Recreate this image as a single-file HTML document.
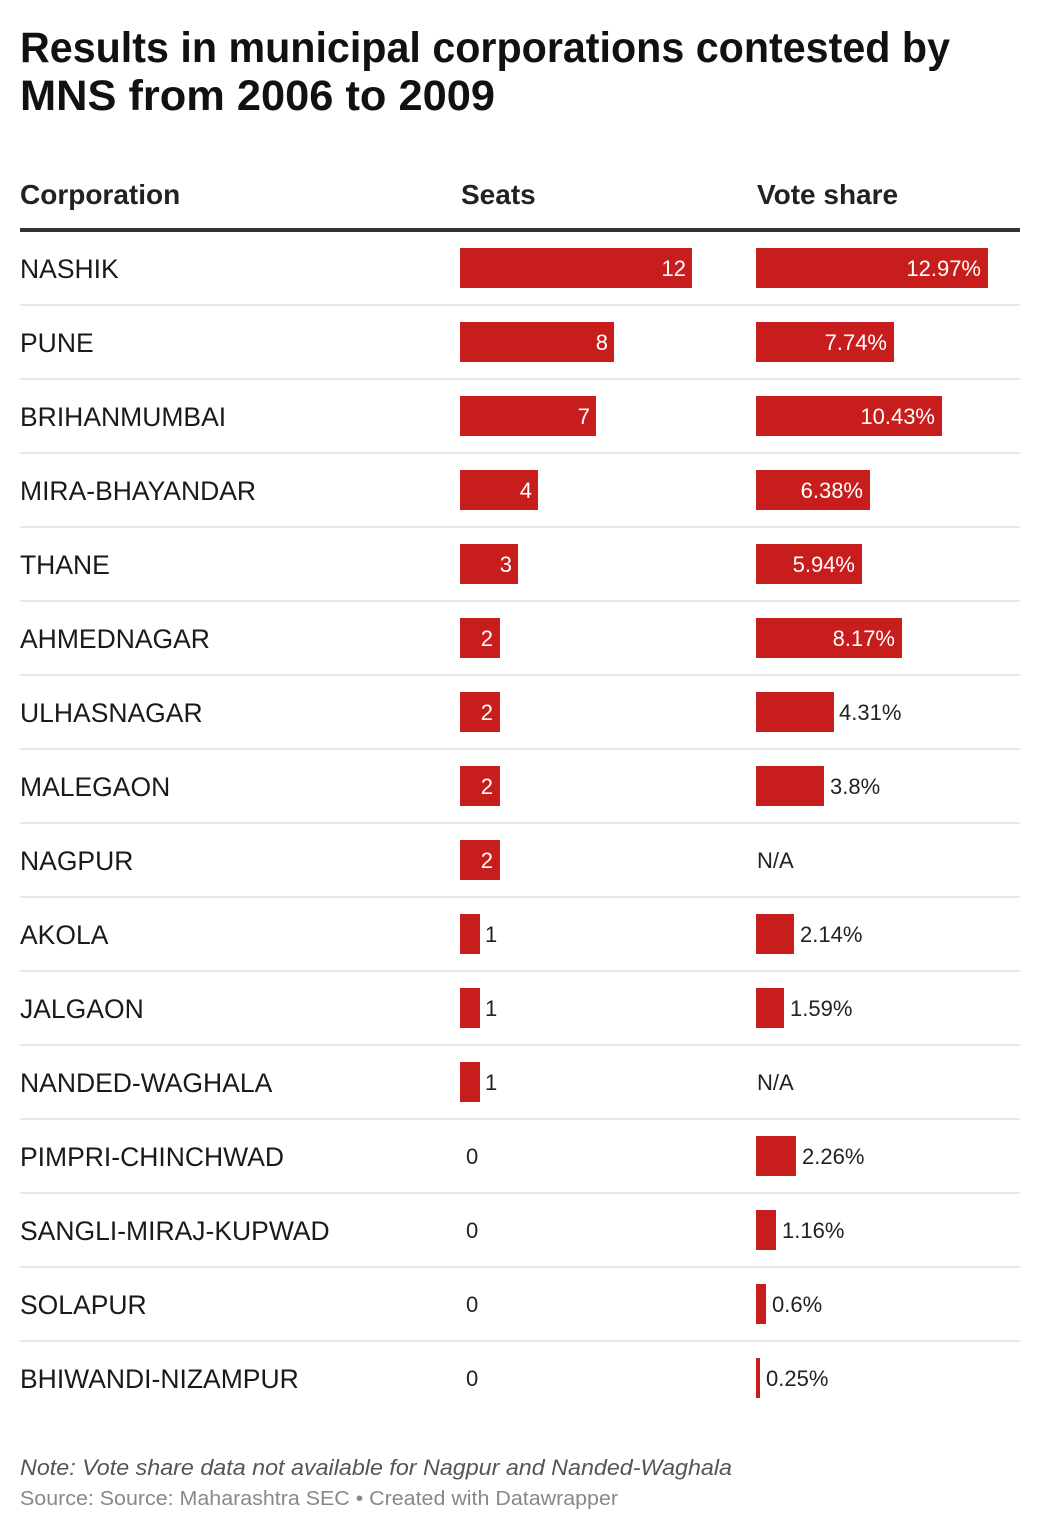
<!DOCTYPE html>
<html>
<head>
<meta charset="utf-8">
<style>
  html, body { margin: 0; padding: 0; background: #ffffff; }
  svg { display: block; }
  text { font-family: "Liberation Sans", Arial, sans-serif; }
</style>
</head>
<body>
<svg width="1040" height="1538" viewBox="0 0 1040 1538" xmlns="http://www.w3.org/2000/svg">
  <rect x="0" y="0" width="1040" height="1538" fill="#ffffff"/>

  <!-- Title -->
  <text x="20" y="62" font-size="43" font-weight="bold" fill="#111" textLength="930" lengthAdjust="spacingAndGlyphs">Results in municipal corporations contested by</text>
  <text x="20" y="110" font-size="43" font-weight="bold" fill="#111" textLength="475" lengthAdjust="spacingAndGlyphs">MNS from 2006 to 2009</text>

  <!-- Header -->
  <text x="20" y="204" font-size="28" font-weight="bold" fill="#222">Corporation</text>
  <text x="461" y="204" font-size="28" font-weight="bold" fill="#222">Seats</text>
  <text x="757" y="204" font-size="28" font-weight="bold" fill="#222">Vote share</text>
  <rect x="20" y="228" width="1000" height="4" fill="#333"/>

  <!-- Separators -->
  <g fill="#e6e6e6">
    <rect x="20" y="304" width="1000" height="2"/>
    <rect x="20" y="378" width="1000" height="2"/>
    <rect x="20" y="452" width="1000" height="2"/>
    <rect x="20" y="526" width="1000" height="2"/>
    <rect x="20" y="600" width="1000" height="2"/>
    <rect x="20" y="674" width="1000" height="2"/>
    <rect x="20" y="748" width="1000" height="2"/>
    <rect x="20" y="822" width="1000" height="2"/>
    <rect x="20" y="896" width="1000" height="2"/>
    <rect x="20" y="970" width="1000" height="2"/>
    <rect x="20" y="1044" width="1000" height="2"/>
    <rect x="20" y="1118" width="1000" height="2"/>
    <rect x="20" y="1192" width="1000" height="2"/>
    <rect x="20" y="1266" width="1000" height="2"/>
    <rect x="20" y="1340" width="1000" height="2"/>
  </g>

  <!-- Row labels -->
  <g font-size="26.5" fill="#1a1a1a">
    <text x="20" y="278">NASHIK</text>
    <text x="20" y="352">PUNE</text>
    <text x="20" y="426">BRIHANMUMBAI</text>
    <text x="20" y="500">MIRA-BHAYANDAR</text>
    <text x="20" y="574">THANE</text>
    <text x="20" y="648">AHMEDNAGAR</text>
    <text x="20" y="722">ULHASNAGAR</text>
    <text x="20" y="796">MALEGAON</text>
    <text x="20" y="870">NAGPUR</text>
    <text x="20" y="944">AKOLA</text>
    <text x="20" y="1018">JALGAON</text>
    <text x="20" y="1092">NANDED-WAGHALA</text>
    <text x="20" y="1166">PIMPRI-CHINCHWAD</text>
    <text x="20" y="1240">SANGLI-MIRAJ-KUPWAD</text>
    <text x="20" y="1314">SOLAPUR</text>
    <text x="20" y="1388">BHIWANDI-NIZAMPUR</text>
  </g>

  <!-- Seats bars -->
  <g fill="#c71e1d">
    <rect x="460" y="248" width="232" height="40"/>
    <rect x="460" y="322" width="154" height="40"/>
    <rect x="460" y="396" width="136" height="40"/>
    <rect x="460" y="470" width="78" height="40"/>
    <rect x="460" y="544" width="58" height="40"/>
    <rect x="460" y="618" width="40" height="40"/>
    <rect x="460" y="692" width="40" height="40"/>
    <rect x="460" y="766" width="40" height="40"/>
    <rect x="460" y="840" width="40" height="40"/>
    <rect x="460" y="914" width="20" height="40"/>
    <rect x="460" y="988" width="20" height="40"/>
    <rect x="460" y="1062" width="20" height="40"/>
  </g>
  <!-- Seats labels inside -->
  <g font-size="22" fill="#ffffff" text-anchor="end">
    <text x="686" y="276">12</text>
    <text x="608" y="350">8</text>
    <text x="590" y="424">7</text>
    <text x="532" y="498">4</text>
    <text x="512" y="572">3</text>
    <text x="493" y="646">2</text>
    <text x="493" y="720">2</text>
    <text x="493" y="794">2</text>
    <text x="493" y="868">2</text>
  </g>
  <!-- Seats labels outside -->
  <g font-size="22" fill="#222">
    <text x="485" y="942">1</text>
    <text x="485" y="1016">1</text>
    <text x="485" y="1090">1</text>
    <text x="466" y="1164">0</text>
    <text x="466" y="1238">0</text>
    <text x="466" y="1312">0</text>
    <text x="466" y="1386">0</text>
  </g>

  <!-- Vote share bars -->
  <g fill="#c71e1d">
    <rect x="756" y="248" width="232" height="40"/>
    <rect x="756" y="322" width="138" height="40"/>
    <rect x="756" y="396" width="186" height="40"/>
    <rect x="756" y="470" width="114" height="40"/>
    <rect x="756" y="544" width="106" height="40"/>
    <rect x="756" y="618" width="146" height="40"/>
    <rect x="756" y="692" width="78" height="40"/>
    <rect x="756" y="766" width="68" height="40"/>
    <rect x="756" y="914" width="38" height="40"/>
    <rect x="756" y="988" width="28" height="40"/>
    <rect x="756" y="1136" width="40" height="40"/>
    <rect x="756" y="1210" width="20" height="40"/>
    <rect x="756" y="1284" width="10" height="40"/>
    <rect x="756" y="1358" width="4" height="40"/>
  </g>
  <!-- Vote labels inside -->
  <g font-size="22" fill="#ffffff" text-anchor="end">
    <text x="981" y="276">12.97%</text>
    <text x="887" y="350">7.74%</text>
    <text x="935" y="424">10.43%</text>
    <text x="863" y="498">6.38%</text>
    <text x="855" y="572">5.94%</text>
    <text x="895" y="646">8.17%</text>
  </g>
  <!-- Vote labels outside -->
  <g font-size="22" fill="#222">
    <text x="839" y="720">4.31%</text>
    <text x="830" y="794">3.8%</text>
    <text x="757" y="868">N/A</text>
    <text x="800" y="942">2.14%</text>
    <text x="790" y="1016">1.59%</text>
    <text x="757" y="1090">N/A</text>
    <text x="802" y="1164">2.26%</text>
    <text x="782" y="1238">1.16%</text>
    <text x="772" y="1312">0.6%</text>
    <text x="766" y="1386">0.25%</text>
  </g>

  <!-- Notes -->
  <text x="20" y="1475" font-size="22" font-style="italic" fill="#555" textLength="712" lengthAdjust="spacingAndGlyphs">Note: Vote share data not available for Nagpur and Nanded-Waghala</text>
  <text x="20" y="1505" font-size="20" fill="#888" textLength="598" lengthAdjust="spacingAndGlyphs">Source: Source: Maharashtra SEC • Created with Datawrapper</text>
</svg>
</body>
</html>
